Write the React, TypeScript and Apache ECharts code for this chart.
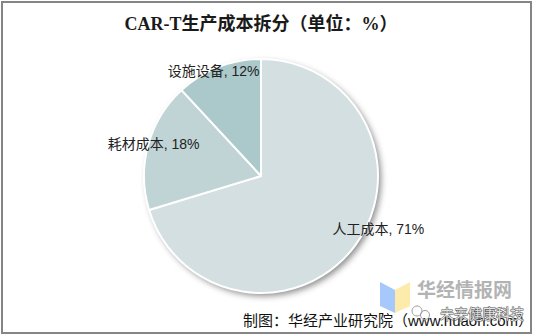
import React, { useEffect, useRef } from "react";
import * as echarts from "echarts";

// Cost breakdown of CAR-T manufacturing (%)
const categories = ["人工成本", "耗材成本", "设施设备"];
const shares = [71, 18, 12];
const sliceColors = ["#d3dfe0", "#c0d4d6", "#abc9ca"];

const titleText = "CAR-T生产成本拆分（单位：%）";
const sourceText = "制图：华经产业研究院（www.huaon.com）";
const brandText = "华经情报网";
const stampText = "未来健康科技";

// label nudges relative to the default "inside" anchor of each slice
const labelShift: [number, number][] = [
  [68, 16],
  [-48, -16],
  [-25, -48],
];

const PIE_CENTER = [261, 176];
const PIE_RADIUS = 117;

export default function App() {
  const ref = useRef<HTMLDivElement>(null);

  useEffect(() => {
    if (!ref.current) return;
    const chart = echarts.init(ref.current, undefined, { renderer: "svg" });
    const sans = "'Liberation Sans', 'Noto Sans CJK SC', sans-serif";

    chart.setOption({
      animation: false,
      backgroundColor: "#ffffff",
      title: {
        text: titleText,
        left: 256,
        top: 10,
        textAlign: "center",
        textStyle: {
          fontFamily: "'Liberation Serif', 'Noto Sans CJK SC', serif",
          fontSize: 18,
          fontWeight: "bold",
          color: "#1a1a1a",
        },
      },
      series: [
        {
          // backdrop disc carrying the drop shadow
          type: "pie",
          silent: true,
          center: PIE_CENTER,
          radius: PIE_RADIUS,
          z: 1,
          label: { show: false },
          labelLine: { show: false },
          data: [{ value: 1, name: "" }],
          itemStyle: {
            color: "#d3dfe0",
            shadowBlur: 6,
            shadowOffsetX: 3,
            shadowOffsetY: 3,
            shadowColor: "rgba(0,0,0,0.45)",
          },
        },
        {
          type: "pie",
          center: PIE_CENTER,
          radius: PIE_RADIUS,
          startAngle: 90,
          clockwise: true,
          z: 2,
          data: categories.map((name, i) => ({
            name,
            value: shares[i],
            itemStyle: { color: sliceColors[i] },
          })),
          itemStyle: { borderColor: "#ffffff", borderWidth: 2 },
          label: {
            show: true,
            position: "inside",
            formatter: "{b}, {c}%",
            fontFamily: sans,
            fontSize: 14,
            color: "#222222",
          },
          labelLine: { show: false },
          labelLayout: (params: any) => {
            const s = labelShift[params.dataIndex] || [0, 0];
            return { dx: s[0], dy: s[1] };
          },
          emphasis: { disabled: true },
        },
      ],
      graphic: [
        {
          type: "rect",
          shape: { x: 2, y: 2, width: 529, height: 331 },
          style: { fill: "none", stroke: "#858585", lineWidth: 2 },
          z: 10,
        },
        {
          type: "text",
          x: 243,
          y: 320,
          style: {
            text: sourceText,
            font: `15px ${sans}`,
            fill: "#111111",
            verticalAlign: "middle",
          },
          z: 10,
        },
        {
          type: "polygon",
          shape: { points: [[380, 282], [395, 290], [395, 313], [380, 306]] },
          style: { fill: "#a6c8fb" },
          z: 11,
        },
        {
          type: "polygon",
          shape: { points: [[395, 290], [410, 282], [410, 306], [395, 313]] },
          style: { fill: "#fcebaa" },
          z: 11,
        },
        {
          type: "text",
          x: 417,
          y: 288,
          style: {
            text: brandText,
            font: `bold 19px 'Noto Sans CJK SC', sans-serif`,
            fill: "#b3b3b3",
            verticalAlign: "middle",
          },
          z: 11,
        },
        {
          type: "circle",
          shape: { cx: 417, cy: 311, r: 5 },
          style: { fill: "none", stroke: "#9a9a9a", lineWidth: 1 },
          z: 12,
        },
        {
          type: "circle",
          shape: { cx: 425, cy: 315, r: 4.5 },
          style: { fill: "none", stroke: "#9a9a9a", lineWidth: 1 },
          z: 12,
        },
        {
          type: "text",
          x: 440,
          y: 313,
          style: {
            text: stampText,
            font: `14px 'Noto Sans CJK SC', sans-serif`,
            fill: "rgba(255,255,255,0.85)",
            stroke: "#555555",
            lineWidth: 1,
            verticalAlign: "middle",
          },
          z: 12,
        },
      ],
    });

    return () => chart.dispose();
  }, []);

  return (
    <div
      ref={ref}
      style={{ position: "fixed", left: 0, top: 0, width: 534, height: 336 }}
    />
  );
}
